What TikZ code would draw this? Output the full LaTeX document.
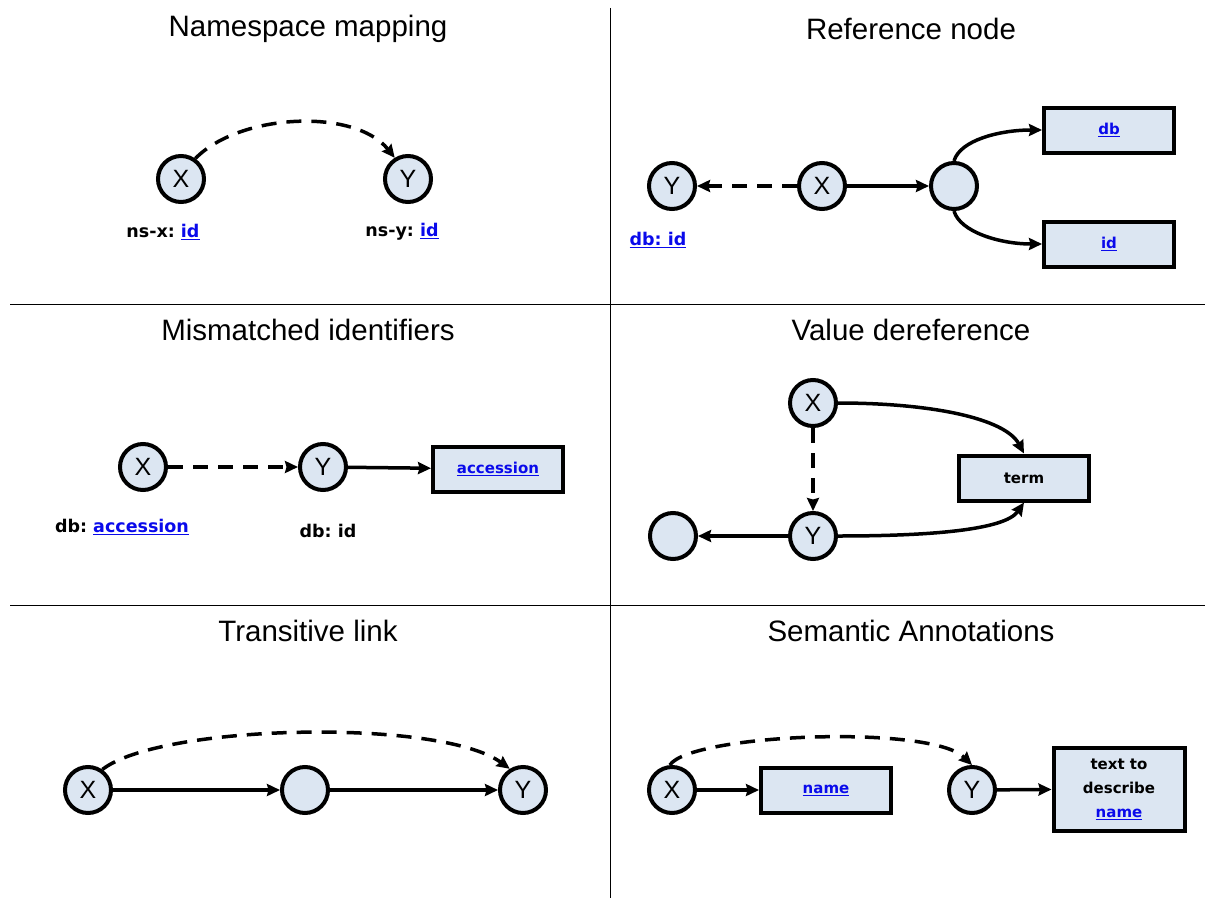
\documentclass[tikz,border=0pt]{standalone}
\usepackage{fontspec}
\setmainfont{Liberation Sans}
\newfontfamily\lblfont{DejaVu Sans}
\usetikzlibrary{arrows.meta}
\definecolor{nodefill}{RGB}{220,230,242}
\definecolor{linkblue}{RGB}{10,10,235}
\newcommand{\lnk}[1]{{\color{linkblue}\underline{#1}}}
\frenchspacing
\tikzset{
  circ/.style={circle, draw, line width=4pt, fill=nodefill, minimum size=46pt, inner sep=0pt,
               font=\fontsize{25}{25}\selectfont},
  box/.style={rectangle, draw, line width=4pt, fill=nodefill, minimum width=130pt, minimum height=45pt,
              inner sep=0pt, font=\lblfont\bfseries\fontsize{15}{24}\selectfont, align=center},
  conn/.style={line width=3.5pt, -{Stealth[length=13pt,width=12pt,inset=1.5pt]}},
  dconn/.style={conn, dash pattern=on 15pt off 10pt},
  title/.style={font=\fontsize{29.5}{30}\selectfont},
  lbl/.style={font=\lblfont\bfseries\fontsize{17.5}{20}\selectfont},
  divider/.style={line width=0.9pt}
}
\begin{document}
\begin{tikzpicture}[x=1pt,y=-1pt]
\useasboundingbox (0,0) rectangle (1205,899);

% panel dividers
\draw[divider] (610,8) -- (610,898);
\draw[divider] (10,304) -- (1205,304);
\draw[divider] (10,605) -- (1205,605);

% titles
\node[title] (t1) at (308,29) {Namespace mapping};
\node[title] (t2) at (911,29) {Reference node};
\node[title] (t3) at (308,330) {Mismatched identifiers};
\node[title] (t4) at (911,330) {Value dereference};
\node[title] (t5) at (308,631) {Transitive link};
\node[title] (t6) at (911,631) {Semantic Annotations};

% Namespace mapping
\node[circ] (ax) at (181,179) {X};
\node[circ] (ay) at (408,179) {Y};
\node[lbl] (axl) at (163,232) {ns-x: \lnk{id}};
\node[lbl] (ayl) at (402,232) {ns-y: \lnk{id}};
\draw[dconn] (ax.55) .. controls (240,113) and (355,108) .. (ay.122);

% Reference node
\node[circ] (by) at (672,186) {Y};
\node[circ] (bx) at (822,186) {X};
\node[circ] (bm) at (954,186) {};
\node[box] (bdb) at (1109,130) {\lnk{db}};
\node[box] (bid) at (1109,244) {\lnk{id}};
\node[lbl] (byl) at (658,240) {\lnk{db: id}};
\draw[dconn] (bx) -- (by);
\draw[conn] (bx) -- (bm);
\draw[conn] (bm.north) .. controls (960,140) and (1000,130) .. (bdb.west);
\draw[conn] (bm.south) .. controls (960,232) and (1000,244) .. (bid.west);

% Mismatched identifiers
\node[circ] (cx) at (143,467) {X};
\node[circ] (cy) at (323,467) {Y};
\node[box] (cacc) at (498,469) {\lnk{accession}};
\node[lbl] (cxl) at (122,527) {db: \lnk{accession}};
\node[lbl] (cyl) at (328,531) {db: id};
\draw[dconn] (cx) -- (cy);
\draw[conn] (cy) -- (cacc);

% Value dereference
\node[circ] (dx) at (813,403) {X};
\node[circ] (dy) at (813,536) {Y};
\node[circ] (dm) at (673,536) {};
\node[box] (dterm) at (1024,478) {term};
\draw[dconn] (dx) -- (dy);
\draw[conn] (dy) -- (dm);
\draw[conn] (dx.east) .. controls (930,403) and (1005,418) .. (dterm.north);
\draw[conn] (dy.east) .. controls (930,536) and (1005,530) .. (dterm.south);

% Transitive link
\node[circ] (ex) at (88,790) {X};
\node[circ] (em) at (305,790) {};
\node[circ] (ey) at (523,790) {Y};
\draw[conn] (ex) -- (em);
\draw[conn] (em) -- (ey);
\draw[dconn] (ex.55) .. controls (160,724) and (440,718) .. (ey.122);

% Semantic Annotations
\node[circ] (fx) at (672,790) {X};
\node[box] (fname) at (826,790) {\lnk{name}};
\node[circ] (fy) at (972,790) {Y};
\node[box, minimum width=131pt, minimum height=83pt] (ftext) at (1119,789)
  {text to\\describe\\\lnk{name}};
\draw[conn] (fx) -- (fname);
\draw[conn] (fy) -- (ftext);
\draw[dconn] (fx.95) .. controls (690,734) and (930,724) .. (fy.north);
\end{tikzpicture}
\end{document}
